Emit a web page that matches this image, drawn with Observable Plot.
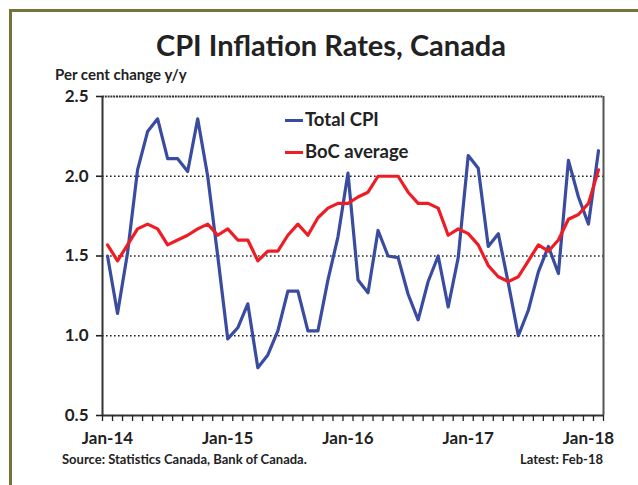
<!DOCTYPE html>
<html><head><meta charset="utf-8">
<script src="https://cdn.jsdelivr.net/npm/d3@7"></script>
<script src="https://cdn.jsdelivr.net/npm/@observablehq/plot@0.6"></script>
<style>
body{margin:0;background:#fff;}
#wrap{position:relative;width:638px;height:485px;overflow:hidden;font-family:Lato,"Open Sans",sans-serif;color:#222;}
#border{position:absolute;left:9px;top:9px;width:700px;height:600px;border:3px solid #74743a;box-sizing:border-box;}
#title{position:absolute;left:0;top:30px;width:662px;text-align:center;font-size:29px;font-weight:bold;line-height:1;}
#ylab{position:absolute;left:55px;top:67px;font-size:15px;font-weight:bold;line-height:1;}
#src{position:absolute;left:62px;top:453px;font-size:13px;font-weight:bold;line-height:1;}
#latest{position:absolute;right:35px;top:453px;font-size:13px;font-weight:bold;line-height:1;}
.leg{position:absolute;font-size:18.5px;font-weight:bold;line-height:1;white-space:nowrap;}
.sw{position:absolute;width:18px;height:3px;}
#chart{position:absolute;left:0;top:0;}
</style></head>
<body>
<div id="wrap">
  <div id="border"></div>
  <div id="chart"></div>
  <div id="title"></div>
  <div id="ylab"></div>
  <div id="src"></div>
  <div id="latest"></div>
  <div id="legend"></div>
</div>
<script>
const titleText = "CPI Inflation Rates, Canada";
const yAxisLabel = "Per cent change y/y";
const sourceText = "Source: Statistics Canada, Bank of Canada.";
const latestText = "Latest: Feb-18";
const seriesNames = ["Total CPI", "BoC average"];
const seriesColors = ["#3a4ca0", "#ee1d25"];
const xTickLabels = ["Jan-14", "Jan-15", "Jan-16", "Jan-17", "Jan-18"];
const xTickIndex = [0, 12, 24, 36, 48];
const yTicks = [0.5, 1.0, 1.5, 2.0, 2.5];
const gridValues = [1.0, 1.5, 2.0];
// monthly, Jan-2014 .. Feb-2018
const totalCPI = [1.50,1.14,1.52,2.04,2.28,2.36,2.11,2.11,2.03,2.36,
                  2.00,1.50,0.98,1.05,1.20,0.80,0.88,1.03,1.28,1.28,
                  1.03,1.03,1.35,1.62,2.02,1.35,1.27,1.66,1.50,1.49,
                  1.26,1.10,1.34,1.50,1.18,1.49,2.13,2.05,1.56,1.64,
                  1.33,1.00,1.16,1.40,1.56,1.39,2.10,1.87,1.70,2.16];
const bocAverage = [1.57,1.47,1.57,1.67,1.70,1.67,1.57,1.60,1.63,1.67,
                    1.70,1.63,1.67,1.60,1.60,1.47,1.53,1.53,1.63,1.70,
                    1.63,1.74,1.80,1.83,1.83,1.87,1.90,2.00,2.00,2.00,
                    1.90,1.83,1.83,1.80,1.63,1.67,1.64,1.57,1.44,1.37,
                    1.34,1.37,1.47,1.57,1.53,1.60,1.73,1.76,1.83,2.04];

const n = totalCPI.length;
const data = totalCPI.map((v, i) => ({i, cpi: v, boc: bocAverage[i]}));
const boundaries = d3.range(n + 1).map(k => k - 0.5);

const chart = Plot.plot({
  width: 638, height: 485,
  marginLeft: 102, marginRight: 35, marginTop: 96, marginBottom: 70,
  x: {domain: [-0.5, n - 0.5]},
  y: {domain: [0.5, 2.5]},
  style: {fontFamily: "Lato, 'Open Sans', sans-serif", fontWeight: "bold", color: "#222", background: "transparent", overflow: "visible"},
  marks: [
    Plot.ruleY(gridValues, {stroke: "#222", strokeWidth: 1.6, strokeDasharray: "1.6,2.4"}),
    Plot.ruleY([2.5], {stroke: "#333", strokeWidth: 1.8, strokeDasharray: "2,0.8"}),
    Plot.ruleY([0.5], {stroke: "#333", strokeWidth: 2}),
    Plot.ruleX([-0.5], {stroke: "#333", strokeWidth: 2}),
    Plot.ruleX([n - 0.5], {stroke: "#555", strokeWidth: 2}),
    Plot.axisY({ticks: yTicks, tickFormat: d3.format(".1f"), tickSize: 6, tickPadding: 8, fontSize: 17, label: null, strokeWidth: 1.6}),
    Plot.axisX({ticks: boundaries, tickFormat: () => "", tickSize: 6, label: null, strokeWidth: 1.3}),
    Plot.axisX({ticks: xTickIndex, tickFormat: d => xTickLabels[xTickIndex.indexOf(d)], tickSize: 0, tickPadding: 16, fontSize: 17, label: null}),
    Plot.lineY(data, {x: "i", y: "cpi", stroke: seriesColors[0], strokeWidth: 3.2}),
    Plot.lineY(data, {x: "i", y: "boc", stroke: seriesColors[1], strokeWidth: 3.2})
  ]
});
document.getElementById("chart").appendChild(chart);
document.getElementById("title").textContent = titleText;
document.getElementById("ylab").textContent = yAxisLabel;
document.getElementById("src").textContent = sourceText;
document.getElementById("latest").textContent = latestText;

const legend = document.getElementById("legend");
const legTops = [110, 142];
seriesNames.forEach((name, k) => {
  const sw = document.createElement("div");
  sw.className = "sw";
  sw.style.left = "285px";
  sw.style.top = (legTops[k] + 9) + "px";
  sw.style.background = seriesColors[k];
  legend.appendChild(sw);
  const t = document.createElement("div");
  t.className = "leg";
  t.style.left = "305px";
  t.style.top = legTops[k] + "px";
  t.textContent = name;
  legend.appendChild(t);
});
</script>
</body></html>
